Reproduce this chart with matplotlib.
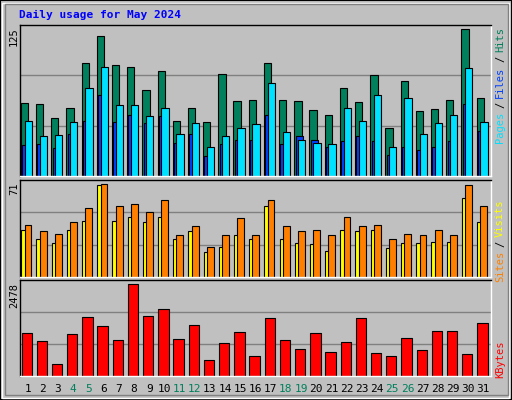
import numpy as np
import matplotlib
matplotlib.use("Agg")
import matplotlib.pyplot as plt
from matplotlib.patches import Rectangle

# ---------------- data ----------------
days = list(range(1, 32))
weekend = [4, 5, 11, 12, 18, 19, 25, 26]
hits = [62, 61, 49, 58, 96, 119, 94, 93, 73, 89, 47, 58, 46, 87, 64, 65,
        96, 65, 64, 56, 52, 75, 63, 86, 41, 81, 55, 57, 65, 125, 66]
files = [47, 34, 35, 46, 75, 93, 60, 60, 51, 58, 36, 45, 25, 34, 41, 44,
         79, 37, 31, 28, 27, 58, 47, 69, 25, 66, 36, 45, 52, 92, 46]
pages = [26, 27, 24, 36, 47, 69, 46, 52, 45, 51, 28, 36, 17, 27, 31, 31,
         52, 27, 34, 31, 25, 30, 34, 30, 18, 25, 22, 25, 30, 61, 38]
sites = [36, 29, 26, 36, 43, 70, 43, 46, 42, 46, 29, 35, 19, 23, 32, 29,
         54, 29, 26, 25, 20, 36, 35, 36, 22, 26, 26, 27, 27, 60, 42]
visits = [40, 35, 33, 42, 53, 71, 54, 56, 50, 59, 32, 39, 23, 32, 45, 32,
          59, 39, 35, 36, 32, 46, 39, 40, 29, 33, 32, 36, 32, 70, 54]
kbytes = [1145, 955, 333, 1118, 1577, 1334, 982, 2478, 1604, 1793, 1009, 1361,
          442, 901, 1198, 550, 1550, 982, 739, 1145, 658, 928, 1550, 630, 550,
          1036, 712, 1225, 1225, 603, 1415]

BG = "#c0c0c0"
MONO = "DejaVu Sans Mono"
W, H = 512, 400

fig = plt.figure(figsize=(5.12, 4.0), dpi=100, facecolor=BG)

# bevel border
fig.patches.append(Rectangle((0, 0), 1, 1, transform=fig.transFigure, fill=False,
                             edgecolor="black", lw=1.5))
fig.patches.append(Rectangle((2 / W, 2 / H), 1 - 5 / W, 1 - 5 / H, transform=fig.transFigure,
                             fill=False, edgecolor="white", lw=1))
fig.patches.append(Rectangle((5 / W, 5 / H), 1 - 9 / W, 1 - 9 / H, transform=fig.transFigure,
                             fill=False, edgecolor="#808080", lw=1))


def make_ax(top, bottom):
    ax = fig.add_axes([20 / W, 1 - bottom / H, 471 / W, (bottom - top) / H])
    ax.set_facecolor(BG)
    ax.set_xlim(0, 31)
    ax.set_xticks([])
    ax.set_yticks([])
    for s in ax.spines.values():
        s.set_color("black")
        s.set_linewidth(1)
    ax.spines["right"].set_color("white")
    ax.spines["bottom"].set_color("white")
    return ax


x = np.arange(31)
edge = dict(edgecolor="black", linewidth=0.8, align="edge")

# ---- top panel ----
ax1 = make_ax(25, 176)
top1 = 128.4
ax1.set_ylim(0, top1)
for g in (top1 / 3, 2 * top1 / 3):
    ax1.axhline(g, color="#808080", lw=1, zorder=0)
ax1.bar(x + 0.05, hits, 0.48, color="#00805c", **edge)
ax1.bar(x + 0.14, pages, 0.48, color="#0040ff", **edge)
ax1.bar(x + 0.3, files, 0.48, color="#00e0ff", **edge)

# ---- middle panel ----
ax2 = make_ax(180, 277)
top2 = 74.1
ax2.set_ylim(0, top2)
for g in (top2 / 3, 2 * top2 / 3):
    ax2.axhline(g, color="#808080", lw=1, zorder=0)
ax2.bar(x + 0.08, sites, 0.45, color="#ffff00", **edge)
ax2.bar(x + 0.3, visits, 0.45, color="#ff8000", **edge)

# ---- bottom panel ----
ax3 = make_ax(280, 376)
top3 = 2586
ax3.set_ylim(0, top3)
for g in (top3 / 3, 2 * top3 / 3):
    ax3.axhline(g, color="#808080", lw=1, zorder=0)
ax3.bar(x + 0.1, kbytes, 0.68, color="#ff0000", **edge)

# day labels
for d in days:
    col = "#00805c" if d in weekend else "black"
    fig.text((20 + (d - 0.5) * 471 / 31) / W, 1 - 389 / H, str(d), color=col,
             family=MONO, fontsize=8, ha="center", va="center")

# title
fig.text(19 / W, 1 - 15 / H, "Daily usage for May 2024", color="#0000ff",
         family=MONO, fontsize=8, fontweight="bold", ha="left", va="center")

# left max labels
for txt, ytop in (("125", 27), ("71", 182), ("2478", 283)):
    fig.text(14 / W, 1 - ytop / H, txt, rotation=90, family=MONO, fontsize=7.5,
             ha="center", va="top")

# right legends, stacked from the top downwards
renderer = fig.canvas.get_renderer()
legends = [
    (27, [("Hits", "#00805c"), ("/", "black"), ("Files", "#0040ff"),
          ("/", "black"), ("Pages", "#00e0ff")]),
    (199, [("Visits", "#ffff00"), ("/", "black"), ("Sites", "#ff8000")]),
    (340, [("KBytes", "#ff0000")]),
]
for ytop, parts in legends:
    y = ytop
    for txt, col in parts:
        t = fig.text(500 / W, 1 - y / H, txt, rotation=90, color=col, family=MONO,
                     fontsize=7.5, ha="center", va="top")
        y += t.get_window_extent(renderer).height + 4

fig.savefig("out.png", dpi=100, facecolor=BG)
